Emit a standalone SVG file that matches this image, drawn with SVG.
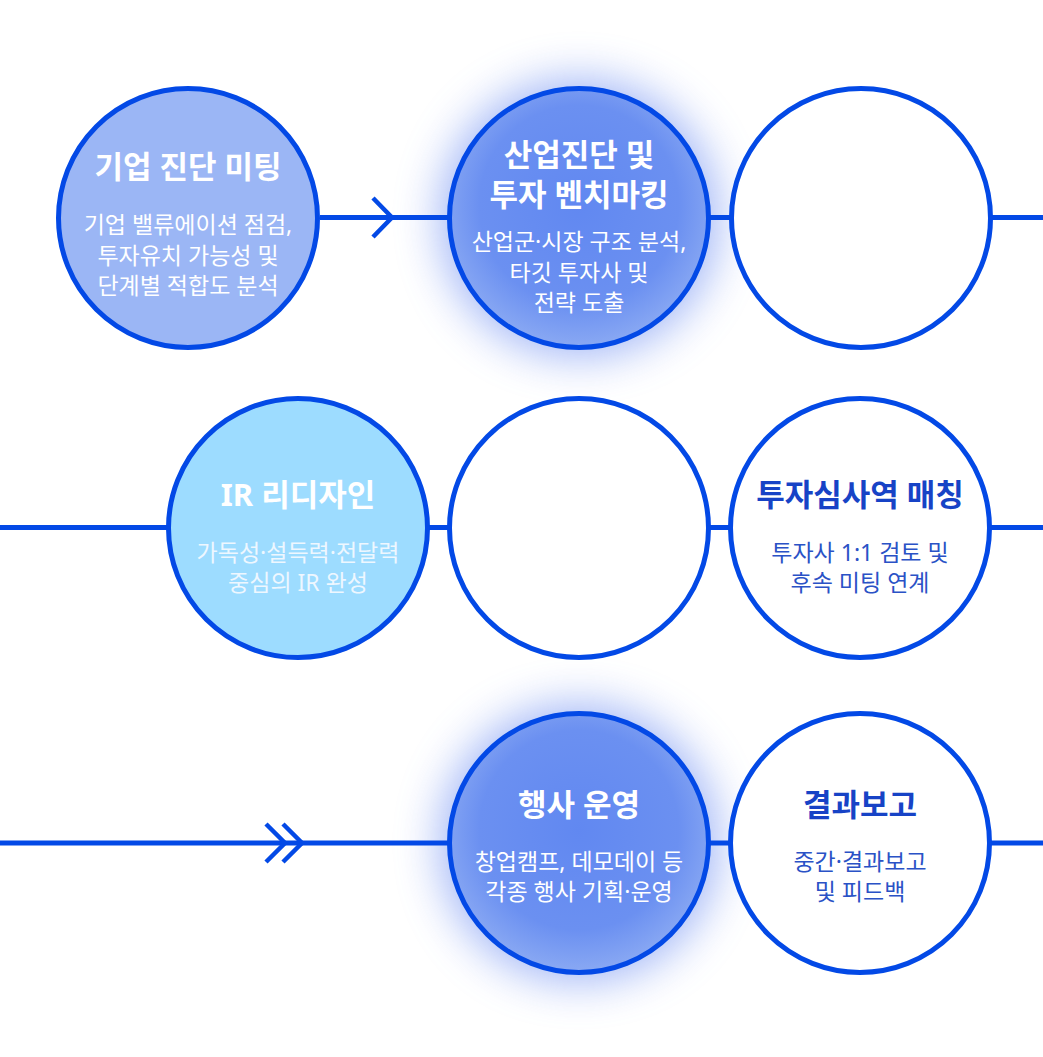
<svg xmlns="http://www.w3.org/2000/svg" width="1043" height="1057" viewBox="0 0 1043 1057">
  <style>
    .ring { stroke: #0349e6; stroke-width: 5; }
    .line { stroke: #0349e6; stroke-width: 5; fill: none; }
    .chev { stroke: #0349e6; stroke-width: 4.5; fill: none; }
    text { font-family: "Noto Sans", "Noto Sans CJK KR", sans-serif; text-anchor: middle; }
    .t { font-size: 31px; font-weight: 700; }
    .s { font-size: 23px; font-weight: 400; }
    .w { fill: #ffffff; }
    .wd { fill: #eef7ff; }
    .db { fill: #1743c6; }
    .dbs { fill: #2a52c6; }
  </style>
  <defs>
    <filter id="glow" x="-50%" y="-50%" width="200%" height="200%">
      <feGaussianBlur stdDeviation="22"/>
    </filter>
    <radialGradient id="blueFill" cx="0.5" cy="0.45" r="0.55">
      <stop offset="0" stop-color="#6188f1"/>
      <stop offset="0.7" stop-color="#6b90f1"/>
      <stop offset="1" stop-color="#8aa9f3"/>
    </radialGradient>
  </defs>
  <rect width="1043" height="1057" fill="#ffffff"/>

  <g id="glows">
    <circle cx="579" cy="218" r="140" fill="#5a7ff0" opacity="0.55" filter="url(#glow)"/>
    <circle cx="579" cy="843" r="140" fill="#5a7ff0" opacity="0.55" filter="url(#glow)"/>
  </g>

  <g id="connectors">
    <line class="line" x1="320" y1="217.5" x2="448" y2="217.5"/>
    <polyline class="chev" points="373,198 392,217.5 373,237"/>
    <line class="line" x1="710" y1="217.5" x2="730" y2="217.5"/>
    <line class="line" x1="990" y1="217.5" x2="1043" y2="217.5"/>

    <line class="line" x1="0" y1="527.5" x2="168" y2="527.5"/>
    <line class="line" x1="428" y1="527.5" x2="449" y2="527.5"/>
    <line class="line" x1="710" y1="527.5" x2="730" y2="527.5"/>
    <line class="line" x1="990" y1="527.5" x2="1043" y2="527.5"/>

    <line class="line" x1="0" y1="843" x2="448" y2="843"/>
    <polyline class="chev" points="266,824 285,843 266,862"/>
    <polyline class="chev" points="283,824 302,843 283,862"/>
    <line class="line" x1="710" y1="843" x2="730" y2="843"/>
    <line class="line" x1="990" y1="843" x2="1043" y2="843"/>
  </g>

  <g id="node-diagnosis-meeting">
    <circle class="ring" cx="188" cy="218" r="129.5" fill="#9bb6f5"/>
    <text class="t w" x="188" y="178">기업 진단 미팅</text>
    <text class="s w" x="188" y="233">기업 밸류에이션 점검,</text>
    <text class="s w" x="188" y="264">투자유치 가능성 및</text>
    <text class="s w" x="188" y="294">단계별 적합도 분석</text>
  </g>

  <g id="node-industry-benchmark">
    <circle class="ring" cx="579" cy="218" r="129.5" fill="url(#blueFill)"/>
    <text class="t w" x="579" y="166">산업진단 및</text>
    <text class="t w" x="579" y="206">투자 벤치마킹</text>
    <text class="s w" x="579" y="250">산업군·시장 구조 분석,</text>
    <text class="s w" x="579" y="281">타깃 투자사 및</text>
    <text class="s w" x="579" y="311">전략 도출</text>
  </g>

  <g id="node-blank-1">
    <circle class="ring" cx="861" cy="218" r="129.5" fill="#ffffff"/>
  </g>

  <g id="node-ir-redesign">
    <circle class="ring" cx="298" cy="528" r="129.5" fill="#9ddcff"/>
    <text class="t w" x="298" y="506">IR 리디자인</text>
    <text class="s wd" x="298" y="561">가독성·설득력·전달력</text>
    <text class="s wd" x="298" y="591">중심의 IR 완성</text>
  </g>

  <g id="node-blank-2">
    <circle class="ring" cx="579" cy="528" r="129.5" fill="#ffffff"/>
  </g>

  <g id="node-investor-matching">
    <circle class="ring" cx="860" cy="528" r="129.5" fill="#ffffff"/>
    <text class="t db" x="860" y="506">투자심사역 매칭</text>
    <text class="s dbs" x="860" y="561">투자사 1:1 검토 및</text>
    <text class="s dbs" x="860" y="591">후속 미팅 연계</text>
  </g>

  <g id="node-event-operation">
    <circle class="ring" cx="579" cy="843" r="129.5" fill="url(#blueFill)"/>
    <text class="t w" x="579" y="816">행사 운영</text>
    <text class="s w" x="579" y="870">창업캠프, 데모데이 등</text>
    <text class="s w" x="579" y="900">각종 행사 기획·운영</text>
  </g>

  <g id="node-result-report">
    <circle class="ring" cx="860" cy="843" r="129.5" fill="#ffffff"/>
    <text class="t db" x="860" y="816">결과보고</text>
    <text class="s dbs" x="860" y="870">중간·결과보고</text>
    <text class="s dbs" x="860" y="900">및 피드백</text>
  </g>
</svg>
